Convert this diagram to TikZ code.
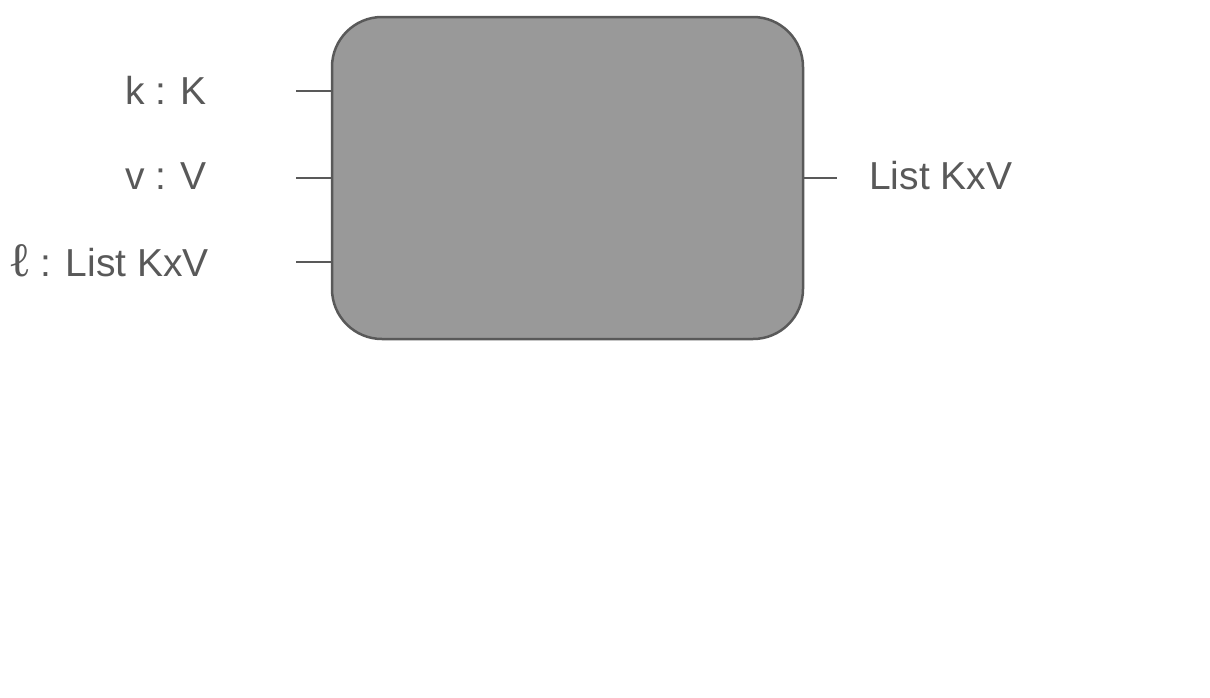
\documentclass[tikz,border=0pt]{standalone}
\usepackage{fontspec}
\setmainfont{Liberation Sans}
\newfontfamily\ellfont{Liberation Serif}
\definecolor{boxgray}{HTML}{999999}
\definecolor{inkgray}{HTML}{595959}
\tikzset{
  port/.style={draw=inkgray, line width=2.5pt},
  portlabel/.style={text=inkgray, inner sep=0pt, font=\fontsize{39}{46}\selectfont}
}
\begin{document}
\begin{tikzpicture}[x=1pt,y=-1pt]
\useasboundingbox (0,0) rectangle (1210,697);

\node [draw=inkgray, fill=boxgray, line width=2.5pt, rounded corners=50pt,
  minimum width=471pt, minimum height=322pt, inner sep=0pt] (box) at (567.5,178) {};

% inputs
\coordinate (kin) at (296,91);
\coordinate (vin) at (296,178);
\coordinate (lin) at (296,262);
\draw [port] (kin) -- (kin -| box.west);
\draw [port] (vin) -- (vin -| box.west);
\draw [port] (lin) -- (lin -| box.west);

\node [portlabel, anchor=east] (klabel) at (207,90) {k : K};
\node [portlabel, anchor=east] (vlabel) at (207,176) {v : V};
\node [portlabel, anchor=east] (llabel) at (209,261) {{\ellfont\fontsize{48}{56}\selectfont ℓ}\hspace{-2pt} : List KxV};

% output
\coordinate (out) at (837,178);
\draw [port] (out -| box.east) -- (out);
\node [portlabel, anchor=west] (outlabel) at (869,176) {List KxV};

\end{tikzpicture}
\end{document}
